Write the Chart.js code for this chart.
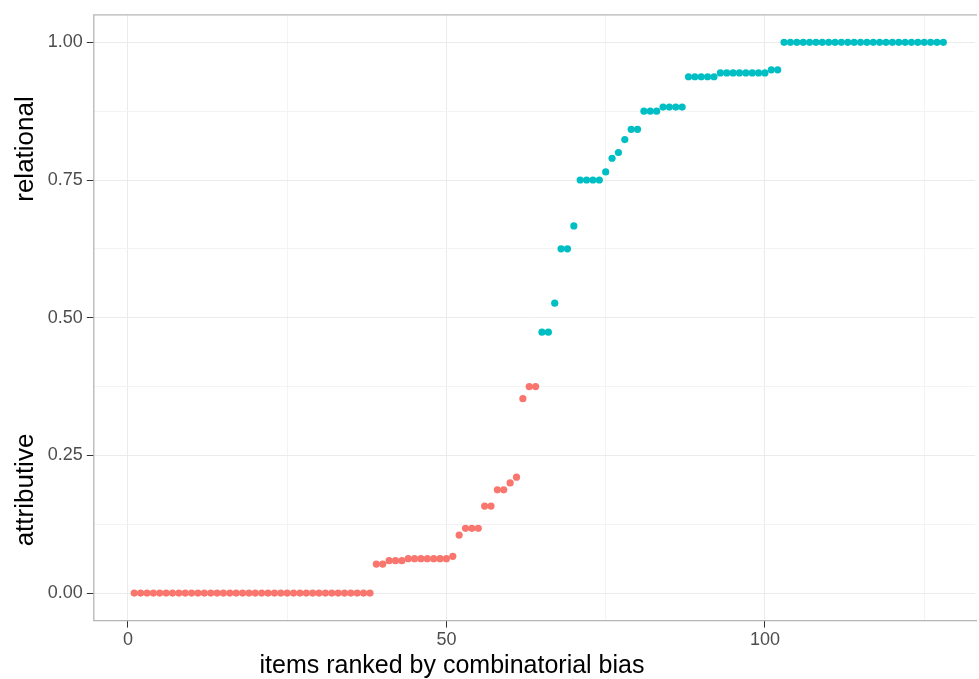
<!DOCTYPE html>
<html>
<head>
<meta charset="utf-8">
<script src="https://cdn.jsdelivr.net/npm/chart.js@4/dist/chart.umd.min.js"></script>
<style>
html,body{margin:0;padding:0;background:#fff;}
#wrap{width:979px;height:679px;position:relative;}
</style>
</head>
<body>
<div id="wrap"><canvas id="c"></canvas></div>
<script>
// ---- data ----
const attributiveRank = [1,2,3,4,5,6,7,8,9,10,11,12,13,14,15,16,17,18,19,20,21,22,23,24,25,26,27,28,29,30,31,32,33,34,35,36,37,38,39,40,41,42,43,44,45,46,47,48,49,50,51,52,53,54,55,56,57,58,59,60,61,62,63,64];
const attributiveValue = [0,0,0,0,0,0,0,0,0,0,0,0,0,0,0,0,0,0,0,0,0,0,0,0,0,0,0,0,0,0,0,0,0,0,0,0,0,0,
  0.0526,0.0526,0.0588,0.0588,0.0588,0.0625,0.0625,0.0625,0.0625,0.0625,0.0625,0.0625,0.0667,
  0.1053,0.1176,0.1176,0.1176,0.1579,0.1579,0.1875,0.1875,0.2000,0.2105,0.3529,0.3750,0.3750];
const relationalRank = [65,66,67,68,69,70,71,72,73,74,75,76,77,78,79,80,81,82,83,84,85,86,87,88,89,90,91,92,93,94,95,96,97,98,99,100,101,102,103,104,105,106,107,108,109,110,111,112,113,114,115,116,117,118,119,120,121,122,123,124,125,126,127,128];
const relationalValue = [0.4737,0.4737,0.5263,0.625,0.625,0.6667,0.75,0.75,0.75,0.75,0.7647,0.7895,0.80,0.8235,0.8421,0.8421,
  0.875,0.875,0.875,0.8824,0.8824,0.8824,0.8824,0.9375,0.9375,0.9375,0.9375,0.9375,
  0.9444,0.9444,0.9444,0.9444,0.9444,0.9444,0.9444,0.9444,0.95,0.95,
  1,1,1,1,1,1,1,1,1,1,1,1,1,1,1,1,1,1,1,1,1,1,1,1,1,1];
const yTickValues = [0,0.125,0.25,0.375,0.5,0.625,0.75,0.875,1];
const yTickLabels = ['0.00','','0.25','','0.50','','0.75','','1.00'];
const xTickValues = [0,25,50,75,100,125];
const xTickLabels = ['0','','50','','100',''];
const xTitle = 'items ranked by combinatorial bias';
const yTitleTop = 'relational';
const yTitleBottom = 'attributive';

const FONT = '"Liberation Sans", Arial, Helvetica, sans-serif';

const toPts = (xs, ys) => xs.map((x, i) => ({x: x, y: ys[i]}));

const framePlugin = {
  id: 'frame',
  beforeDatasetsDraw(chart) {
    const {ctx, chartArea: a} = chart;
    ctx.save();
    ctx.strokeStyle = '#b5b5b5';
    ctx.lineWidth = 1.3;
    ctx.beginPath();
    ctx.moveTo(a.right + 2, a.top);
    ctx.lineTo(a.left, a.top);
    ctx.lineTo(a.left, a.bottom);
    ctx.lineTo(a.right + 2, a.bottom);
    ctx.stroke();
    ctx.restore();
  },
  afterDraw(chart) {
    const {ctx, chartArea: a} = chart;
    ctx.save();
    ctx.fillStyle = '#000';
    ctx.font = '25px ' + FONT;
    ctx.textAlign = 'center';
    ctx.textBaseline = 'alphabetic';
    ctx.fillText(xTitle, 452, 673);
    ctx.font = '26px ' + FONT;
    const drawRot = (txt, cy) => {
      ctx.save();
      ctx.translate(33, cy);
      ctx.rotate(-Math.PI / 2);
      ctx.fillText(txt, 0, 0);
      ctx.restore();
    };
    drawRot(yTitleTop, 149);
    drawRot(yTitleBottom, 490);
    ctx.restore();
  }
};

new Chart(document.getElementById('c'), {
  type: 'scatter',
  data: {
    datasets: [
      {label: 'attributive', data: toPts(attributiveRank, attributiveValue), backgroundColor: '#F8766D', borderWidth: 0, pointRadius: 3.6},
      {label: 'relational', data: toPts(relationalRank, relationalValue), backgroundColor: '#00BFC4', borderWidth: 0, pointRadius: 3.6}
    ]
  },
  options: {
    responsive: true,
    maintainAspectRatio: false,
    animation: false,
    layout: {padding: {top: 13.4, right: 0, bottom: 0, left: 0}},
    plugins: {legend: {display: false}, tooltip: {enabled: false}},
    scales: {
      x: {
        type: 'linear',
        min: -5.35,
        max: 132.97,
        afterFit(s) { s.height = 58.4; },
        afterBuildTicks(s) { s.ticks = xTickValues.map(v => ({value: v})); },
        border: {display: false},
        grid: {
          color: c => (c.tick && xTickLabels[xTickValues.indexOf(c.tick.value)] !== '') ? '#ebebeb' : '#f3f3f3',
          lineWidth: 1,
          tickColor: c => (c.tick && xTickLabels[xTickValues.indexOf(c.tick.value)] !== '') ? '#333333' : 'rgba(0,0,0,0)',
          tickLength: 7,
          drawTicks: true
        },
        ticks: {
          autoSkip: false,
          maxRotation: 0,
          padding: 2,
          color: '#4d4d4d',
          font: {family: FONT, size: 18},
          callback: (v) => { const i = xTickValues.indexOf(v); return i >= 0 ? xTickLabels[i] : ''; }
        }
      },
      y: {
        type: 'linear',
        min: -0.05,
        max: 1.05,
        afterFit(s) { s.width = 93.8; },
        afterBuildTicks(s) { s.ticks = yTickValues.map(v => ({value: v})); },
        border: {display: false},
        grid: {
          color: c => (c.tick && yTickLabels[yTickValues.indexOf(c.tick.value)] !== '') ? '#ebebeb' : '#f3f3f3',
          lineWidth: 1,
          tickColor: c => (c.tick && yTickLabels[yTickValues.indexOf(c.tick.value)] !== '') ? '#333333' : 'rgba(0,0,0,0)',
          tickLength: 7,
          drawTicks: true
        },
        ticks: {
          autoSkip: false,
          padding: 4,
          color: '#4d4d4d',
          font: {family: FONT, size: 18},
          callback: (v) => { const i = yTickValues.indexOf(v); return i >= 0 ? yTickLabels[i] : ''; }
        }
      }
    }
  },
  plugins: [framePlugin]
});
</script>
</body>
</html>
